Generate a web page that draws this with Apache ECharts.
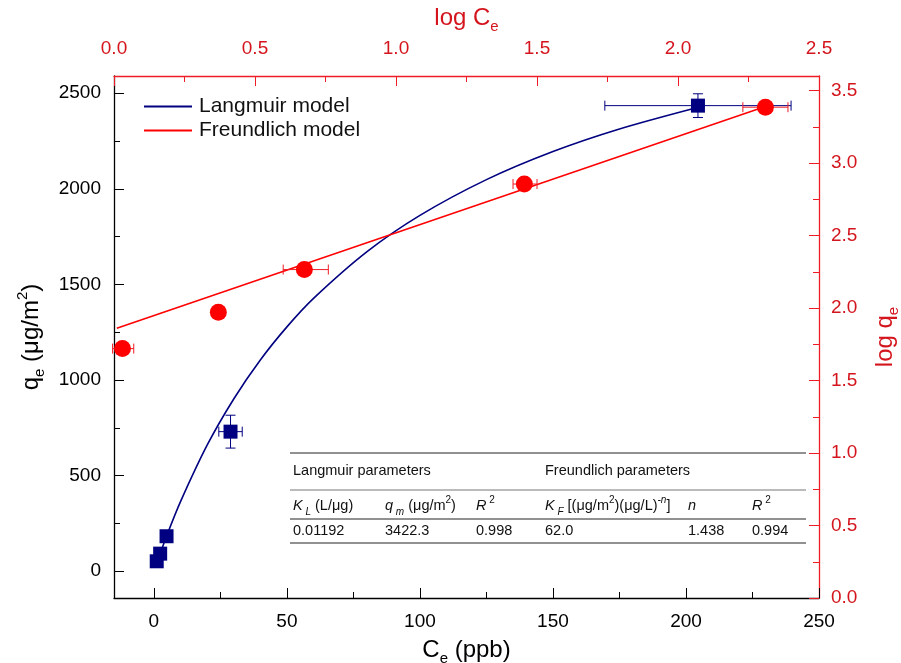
<!DOCTYPE html>
<html>
<head>
<meta charset="utf-8">
<title>Langmuir / Freundlich</title>
<script src="https://cdn.jsdelivr.net/npm/echarts@6/dist/echarts.min.js"></script>
<style>
  html, body { margin: 0; padding: 0; background: #fff; }
  #main { width: 901px; height: 663px; }
</style>
</head>
<body>
<div id="main"></div>
<script type="text/javascript">
// tick values
var ceTicks = [0, 50, 100, 150, 200, 250];
var ceMinor = [25, 75, 125, 175, 225];
var qeTicks = [0, 500, 1000, 1500, 2000, 2500];
var qeMinor = [250, 750, 1250, 1750, 2250];

// Langmuir data (Ce, qe) with error bars
var langCe = [1.06, 2.35, 4.75, 28.8, 204.5];
var langQe = [52, 92, 183, 730, 2435];
var langCeErr = [0, 0, 0, 4.4, 35];
var langQeErr = [0, 0, 0, 86, 62];

// Freundlich data (log Ce, log qe) with horizontal error range
var logCe = [0.03, 0.37, 0.675, 1.455, 2.31];
var logQe = [1.72, 1.97, 2.265, 2.855, 3.385];
var logCeLo = [-0.005, 0.37, 0.60, 1.415, 2.23];
var logCeHi = [0.07, 0.37, 0.76, 1.50, 2.39];

// fitted curves
var langFitCe = [1, 5, 10, 20, 30, 40, 50, 60, 80, 100, 125, 150, 175, 205];
var langFitQe = [40, 192, 364, 659, 901, 1105, 1278, 1427, 1670, 1861, 2048, 2195, 2313, 2428];
var freFitLogCe = [0.01, 2.31];
var freFitLogQe = [1.86, 3.39];

var RED = '#ee1c24';
var RED_TXT = '#d4151d';
var NAVY = '#000080';
var FONT = 'Liberation Sans, Arial, sans-serif';

function zip() {
  var arrs = arguments, out = [];
  for (var i = 0; i < arrs[0].length; i++) {
    var row = [];
    for (var k = 0; k < arrs.length; k++) row.push(arrs[k][i]);
    out.push(row);
  }
  return out;
}

var langErrData = [];
for (var i = 0; i < langCe.length; i++) {
  langErrData.push([langCe[i], langQe[i],
    langCe[i] - langCeErr[i], langCe[i] + langCeErr[i],
    langQe[i] - langQeErr[i], langQe[i] + langQeErr[i]]);
}
var freErrData = [];
for (var j = 0; j < logCe.length; j++) {
  freErrData.push([logCe[j], logQe[j], logCeLo[j], logCeHi[j], logQe[j], logQe[j]]);
}

// error bar renderer: [x, y, xlo, xhi, ylo, yhi]
function errRender(color) {
  return function (params, api) {
    var x = api.value(0), y = api.value(1);
    var xlo = api.value(2), xhi = api.value(3), ylo = api.value(4), yhi = api.value(5);
    var cap = 5, kids = [];
    var st = { stroke: color, lineWidth: 1 };
    if (xhi > xlo) {
      var a = api.coord([xlo, y]), b = api.coord([xhi, y]);
      kids.push({ type: 'line', shape: { x1: a[0], y1: a[1], x2: b[0], y2: b[1] }, style: st });
      kids.push({ type: 'line', shape: { x1: a[0], y1: a[1] - cap, x2: a[0], y2: a[1] + cap }, style: st });
      kids.push({ type: 'line', shape: { x1: b[0], y1: b[1] - cap, x2: b[0], y2: b[1] + cap }, style: st });
    }
    if (yhi > ylo) {
      var c = api.coord([x, ylo]), d = api.coord([x, yhi]);
      kids.push({ type: 'line', shape: { x1: c[0], y1: c[1], x2: d[0], y2: d[1] }, style: st });
      kids.push({ type: 'line', shape: { x1: c[0] - cap, y1: c[1], x2: c[0] + cap, y2: c[1] }, style: st });
      kids.push({ type: 'line', shape: { x1: d[0] - cap, y1: d[1], x2: d[0] + cap, y2: d[1] }, style: st });
    }
    return { type: 'group', children: kids };
  };
}

function plain(v) { return String(v); }
function oneDec(v) { return v.toFixed(1); }

var myChart = echarts.init(document.getElementById('main'));

var gridBox = { left: 114, right: 82, top: 76, bottom: 65, containLabel: false, outerBoundsMode: 'none' };

var subRich = {
  n: { fontSize: 24, lineHeight: 32, fontFamily: FONT },
  s: { fontSize: 15, verticalAlign: 'bottom', fontFamily: FONT },
  p: { fontSize: 15, verticalAlign: 'top', fontFamily: FONT }
};

// table helpers
var tRich = {
  n: { fontSize: 14.5, lineHeight: 22, fontFamily: FONT, fill: '#111' },
  i: { fontSize: 14.5, lineHeight: 22, fontFamily: FONT, fontStyle: 'italic', fill: '#111' },
  s: { fontSize: 10, verticalAlign: 'bottom', fontFamily: FONT, fontStyle: 'italic', fill: '#111' },
  p: { fontSize: 10, verticalAlign: 'top', fontFamily: FONT, fill: '#111' },
  pi: { fontSize: 10, verticalAlign: 'top', fontFamily: FONT, fontStyle: 'italic', fill: '#111' }
};
function tText(x, y, txt) {
  return { type: 'text', x: x, y: y, z: 10,
    style: { text: txt, rich: tRich, fill: '#111', fontSize: 14.5, fontFamily: FONT, textVerticalAlign: 'middle' } };
}
function tLine(y, c) {
  return { type: 'line', z: 10, shape: { x1: 290, y1: y, x2: 806, y2: y }, style: { stroke: c, lineWidth: 1 } };
}

option = {
  animation: false,
  backgroundColor: '#fff',
  textStyle: { fontFamily: FONT },
  grid: [gridBox, gridBox],
  legend: {
    left: 139, top: 91, orient: 'vertical', icon: 'rect',
    itemWidth: 48, itemHeight: 2, itemGap: 3,
    textStyle: { fontSize: 21, color: '#111', fontFamily: FONT, padding: [0, 0, 0, 2] },
    data: ['Langmuir model', 'Freundlich model']
  },
  xAxis: [
    {
      type: 'value', gridIndex: 0, position: 'bottom', min: -15, max: 250,
      name: '{n|C}{s|e}{n| (ppb)}', nameLocation: 'middle', nameGap: 36,
      nameTextStyle: { rich: subRich, color: '#000' },
      axisLine: { onZero: false, lineStyle: { color: '#000', width: 1.3 } },
      axisTick: { inside: true, length: 10, customValues: ceTicks, lineStyle: { color: '#000' } },
      axisLabel: { customValues: ceTicks, fontSize: 19, color: '#000', margin: 14, formatter: plain },
      splitLine: { show: false }
    },
    {
      type: 'value', gridIndex: 0, position: 'top', min: 0, max: 2.5, interval: 0.5,
      name: '{n|log C}{s|e}', nameLocation: 'middle', nameGap: 36,
      nameTextStyle: { rich: subRich, color: RED_TXT },
      axisLine: { onZero: false, lineStyle: { color: RED, width: 1.3 } },
      axisTick: { inside: true, length: 10, lineStyle: { color: RED } },
      minorTick: { show: true, splitNumber: 2, length: 6, lineStyle: { color: RED } },
      axisLabel: { fontSize: 19, color: RED_TXT, margin: 18, formatter: oneDec },
      splitLine: { show: false }
    },
    {
      // minor ticks of the Ce axis
      type: 'value', gridIndex: 1, position: 'bottom', min: -15, max: 250,
      axisLine: { show: false, onZero: false },
      axisTick: { inside: true, length: 6, customValues: ceMinor, lineStyle: { color: '#000' } },
      axisLabel: { show: false }, splitLine: { show: false }
    }
  ],
  yAxis: [
    {
      type: 'value', gridIndex: 0, position: 'left', min: -140, max: 2590,
      name: '{n|q}{s|e}{n| (μg/m}{p|2}{n|)}', nameLocation: 'middle', nameGap: 56, nameRotate: 90,
      nameTextStyle: { rich: subRich, color: '#000' },
      axisLine: { onZero: false, lineStyle: { color: '#000', width: 1.3 } },
      axisTick: { inside: true, length: 10, customValues: qeTicks, lineStyle: { color: '#000' } },
      axisLabel: { customValues: qeTicks, fontSize: 19, color: '#000', margin: 13, formatter: plain },
      splitLine: { show: false }
    },
    {
      type: 'value', gridIndex: 0, position: 'right', min: 0, max: 3.6, interval: 0.5,
      name: '{n|log q}{s|e}', nameLocation: 'middle', nameGap: 50, nameRotate: 90,
      nameTextStyle: { rich: subRich, color: RED_TXT },
      axisLine: { onZero: false, lineStyle: { color: RED, width: 1.3 } },
      axisTick: { inside: true, length: 10, lineStyle: { color: RED } },
      minorTick: { show: true, splitNumber: 2, length: 6, lineStyle: { color: RED } },
      axisLabel: { fontSize: 19, color: RED_TXT, margin: 12, showMaxLabel: false, formatter: oneDec },
      splitLine: { show: false }
    },
    {
      // minor ticks of the qe axis
      type: 'value', gridIndex: 1, position: 'left', min: -140, max: 2590,
      axisLine: { show: false, onZero: false },
      axisTick: { inside: true, length: 6, customValues: qeMinor, lineStyle: { color: '#000' } },
      axisLabel: { show: false }, splitLine: { show: false }
    }
  ],
  series: [
    {
      name: 'Langmuir model', type: 'line', xAxisIndex: 0, yAxisIndex: 0,
      data: zip(langFitCe, langFitQe), smooth: 0.3, symbol: 'none',
      lineStyle: { color: NAVY, width: 1.6 }, itemStyle: { color: NAVY }, z: 2
    },
    {
      name: 'Freundlich model', type: 'line', xAxisIndex: 1, yAxisIndex: 1,
      data: zip(freFitLogCe, freFitLogQe), symbol: 'none',
      lineStyle: { color: '#ff0000', width: 1.6 }, itemStyle: { color: '#ff0000' }, z: 2
    },
    {
      type: 'custom', xAxisIndex: 0, yAxisIndex: 0, renderItem: errRender(NAVY),
      data: langErrData, z: 3, clip: false
    },
    {
      type: 'custom', xAxisIndex: 1, yAxisIndex: 1, renderItem: errRender(RED),
      data: freErrData, z: 3, clip: false
    },
    {
      type: 'scatter', xAxisIndex: 0, yAxisIndex: 0, symbol: 'rect', symbolSize: 14,
      data: zip(langCe, langQe), itemStyle: { color: NAVY, opacity: 1 }, z: 4
    },
    {
      type: 'scatter', xAxisIndex: 1, yAxisIndex: 1, symbol: 'circle', symbolSize: 17,
      data: zip(logCe, logQe), itemStyle: { color: '#ff0000', opacity: 1 }, z: 4
    }
  ],
  graphic: [
    tLine(453, '#222'),
    tText(293, 471, '{n|Langmuir parameters}'),
    tText(545, 471, '{n|Freundlich parameters}'),
    tLine(490, '#777'),
    tText(293, 506, '{i|K}{s| L}{n| (L/μg)}'),
    tText(385, 506, '{i|q}{s| m}{n| (μg/m}{p|2}{n|)}'),
    tText(476, 506, '{i|R}{p| 2}'),
    tText(545, 506, '{i|K}{s| F}{n| [(μg/m}{p|2}{n|)(μg/L)}{pi|-n}{n|]}'),
    tText(688, 506, '{i|n}'),
    tText(752, 506, '{i|R}{p| 2}'),
    tLine(519, '#222'),
    tText(293, 531, '{n|0.01192}'),
    tText(385, 531, '{n|3422.3}'),
    tText(476, 531, '{n|0.998}'),
    tText(545, 531, '{n|62.0}'),
    tText(688, 531, '{n|1.438}'),
    tText(752, 531, '{n|0.994}'),
    tLine(543, '#222')
  ]
};

myChart.setOption(option);
</script>
</body>
</html>
